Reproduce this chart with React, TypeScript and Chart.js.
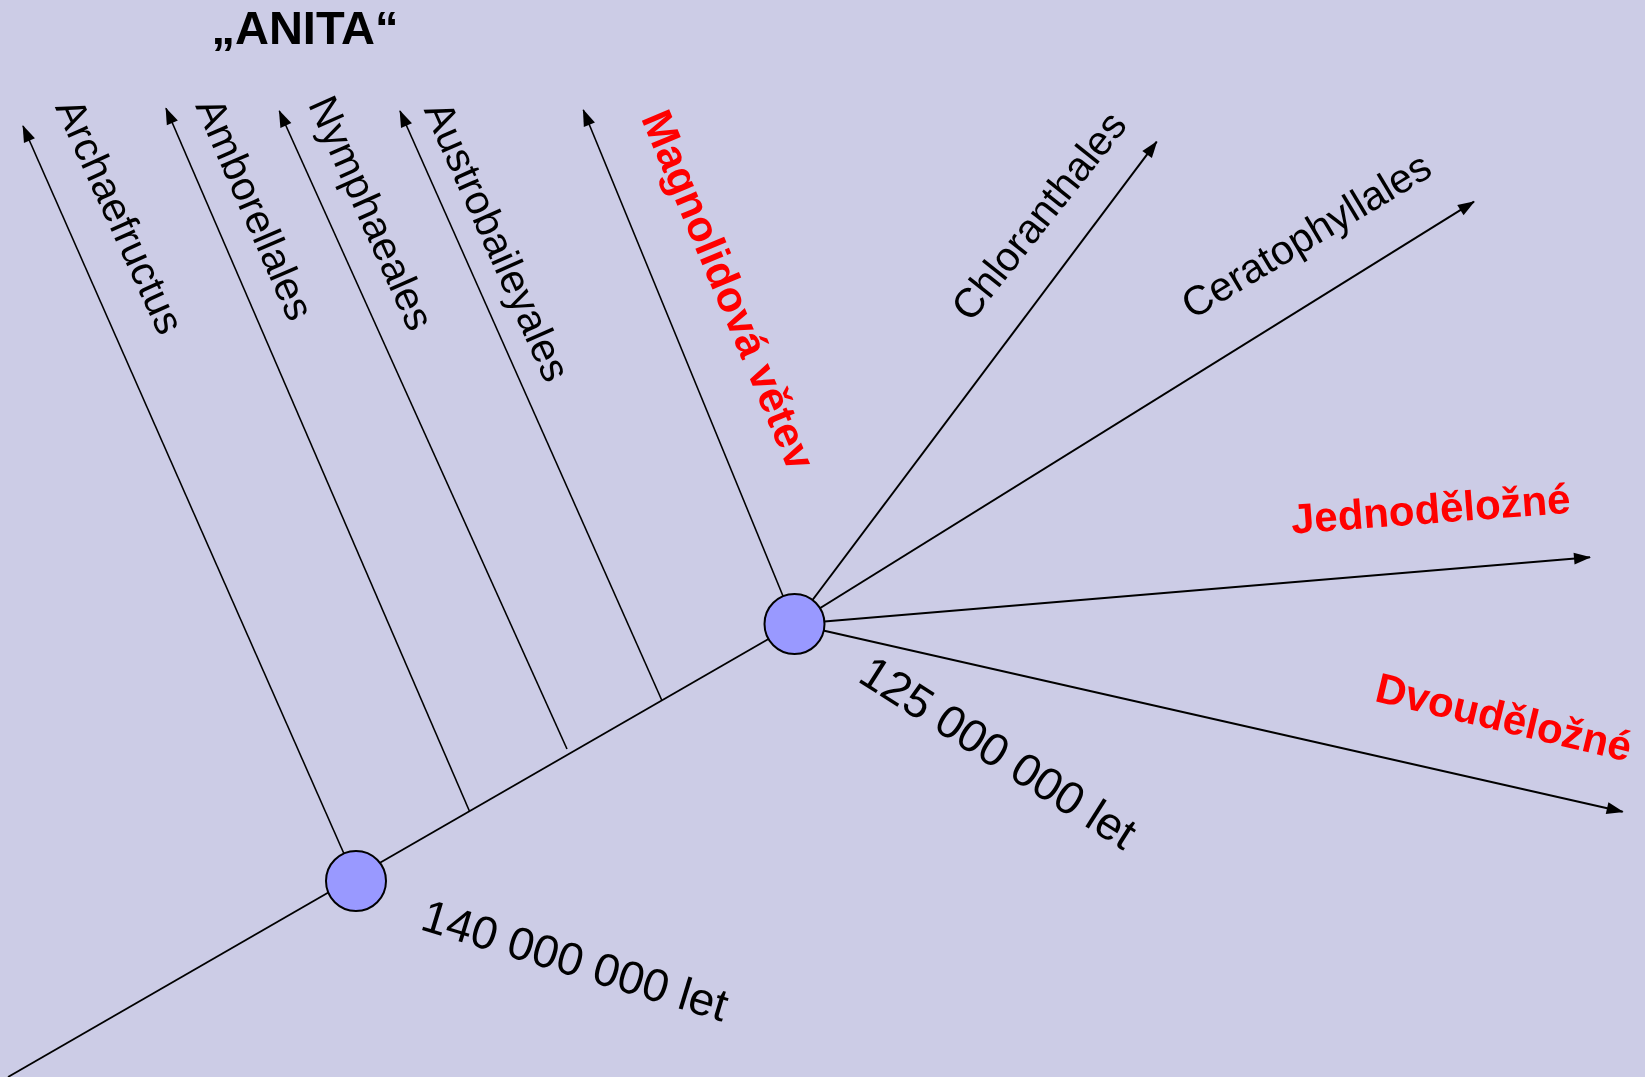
import React, { useEffect, useRef } from "react";
import { Chart, registerables } from "chart.js";

Chart.register(...registerables);

const W = 1645;
const H = 1077;

// ---- data ----
const title = "\u201EANITA\u201C";
const branchNames = [
  "Archaefructus",
  "Amborellales",
  "Nymphaeales",
  "Austrobaileyales",
  "Magnolidová větev",
  "Chloranthales",
  "Ceratophyllales",
  "Jednoděložné",
  "Dvouděložné",
];
const branchHighlighted = [false, false, false, false, true, false, false, true, true];
const branchBaseX = [356, 469.4, 567, 661.7, 794.5, 794.5, 794.5, 794.5, 794.5];
const branchBaseY = [881, 811, 749, 700, 624, 624, 624, 624, 624];
const branchTipX = [23, 166, 279.3, 400, 583.3, 1156.7, 1474, 1590, 1622.7];
const branchTipY = [126, 108.3, 111, 111, 110, 141.7, 201.7, 557.3, 811.7];

const trunkX = [8, 794.5];
const trunkY = [1077, 624];

const nodeX = [356, 794.5];
const nodeY = [881, 624];
const nodeAges = ["140 000 000 let", "125 000 000 let"];

// ---- layout (label placement) ----
const branchLabelCX = [117.5, 252.5, 369, 495, 726, 1040.8, 1307.5, 1430.8, 1503.3];
const branchLabelCY = [217.5, 210, 214, 242.5, 291, 217.5, 237.5, 511.7, 720];
const branchLabelAngle = [65.5, 66.5, 66, 66, 67.3, -51.5, -31, -4.3, 13.5];
const nodeLabelCX = [574.2, 996.7];
const nodeLabelCY = [963.3, 755];
const nodeLabelAngle = [17, 32.5];

const BG = "#CCCCE6";
const NODE_FILL = "#9999FF";
const FONT = '"Liberation Sans", Arial, sans-serif';

export default function App() {
  const ref = useRef<HTMLCanvasElement>(null);

  useEffect(() => {
    document.body.style.margin = "0";
    const canvas = ref.current;
    if (!canvas) return;

    const datasets: any[] = [];
    datasets.push({
      label: "nodes",
      data: nodeX.map((x, i) => ({ x, y: nodeY[i] })),
      pointRadius: 30,
      pointHoverRadius: 30,
      pointBackgroundColor: NODE_FILL,
      pointBorderColor: "#000000",
      pointBorderWidth: 2,
      showLine: false,
      order: 0,
      clip: false,
    });
    datasets.push({
      label: "trunk",
      data: trunkX.map((x, i) => ({ x, y: trunkY[i] })),
      showLine: true,
      borderColor: "#000000",
      borderWidth: 1.8,
      pointRadius: 0,
      order: 2,
      clip: false,
    });
    branchNames.forEach((name, i) => {
      datasets.push({
        label: name,
        data: [
          { x: branchBaseX[i], y: branchBaseY[i] },
          { x: branchTipX[i], y: branchTipY[i] },
        ],
        showLine: true,
        borderColor: "#000000",
        borderWidth: i < 5 ? 1.6 : 2,
        pointRadius: 0,
        order: 2,
        clip: false,
      });
    });

    const bgPlugin = {
      id: "bg",
      beforeDraw(chart: any) {
        const c = chart.ctx;
        c.save();
        c.fillStyle = BG;
        c.fillRect(0, 0, chart.width, chart.height);
        c.restore();
      },
    };

    const arrowPlugin = {
      id: "arrows",
      afterDatasetsDraw(chart: any) {
        const c = chart.ctx;
        const xs = chart.scales.x;
        const ys = chart.scales.y;
        c.save();
        c.fillStyle = "#000000";
        branchNames.forEach((_, i) => {
          const tx = xs.getPixelForValue(branchTipX[i]);
          const ty = ys.getPixelForValue(branchTipY[i]);
          const bx = xs.getPixelForValue(branchBaseX[i]);
          const by = ys.getPixelForValue(branchBaseY[i]);
          const dx = tx - bx;
          const dy = ty - by;
          const len = Math.hypot(dx, dy);
          const ux = dx / len;
          const uy = dy / len;
          const L = 16;
          const hw = 6;
          const px = tx - ux * L;
          const py = ty - uy * L;
          c.beginPath();
          c.moveTo(tx + ux * 1, ty + uy * 1);
          c.lineTo(px - uy * hw, py + ux * hw);
          c.lineTo(px + uy * hw, py - ux * hw);
          c.closePath();
          c.fill();
        });
        c.restore();
      },
    };

    const labelPlugin = {
      id: "labels",
      afterDraw(chart: any) {
        const c = chart.ctx;
        const xs = chart.scales.x;
        const ys = chart.scales.y;
        const drawText = (
          text: string,
          cx: number,
          cy: number,
          angle: number,
          font: string,
          color: string
        ) => {
          c.save();
          c.translate(xs.getPixelForValue(cx), ys.getPixelForValue(cy));
          c.rotate((angle * Math.PI) / 180);
          c.font = font;
          c.fillStyle = color;
          c.textAlign = "center";
          c.textBaseline = "middle";
          c.fillText(text, 0, 0);
          c.restore();
        };
        // title
        c.save();
        c.font = `bold 47px ${FONT}`;
        c.fillStyle = "#000000";
        c.textAlign = "center";
        c.textBaseline = "alphabetic";
        c.fillText(title, xs.getPixelForValue(305), ys.getPixelForValue(44));
        c.restore();

        branchNames.forEach((name, i) => {
          const hl = branchHighlighted[i];
          drawText(
            name,
            branchLabelCX[i],
            branchLabelCY[i],
            branchLabelAngle[i],
            hl ? `bold ${i === 4 ? 43 : 42}px ${FONT}` : `41px ${FONT}`,
            hl ? "#FF0000" : "#000000"
          );
        });
        nodeAges.forEach((t, i) => {
          drawText(t, nodeLabelCX[i], nodeLabelCY[i], nodeLabelAngle[i], `46px ${FONT}`, "#000000");
        });
      },
    };

    const chart = new Chart(canvas, {
      type: "scatter",
      data: { datasets },
      options: {
        responsive: false,
        maintainAspectRatio: false,
        animation: false,
        devicePixelRatio: 1,
        events: [],
        layout: { padding: 0, autoPadding: false },
        plugins: {
          legend: { display: false },
          tooltip: { enabled: false },
        },
        scales: {
          x: { type: "linear", min: 0, max: W, display: false },
          y: { type: "linear", min: 0, max: H, reverse: true, display: false },
        },
      },
      plugins: [bgPlugin, arrowPlugin, labelPlugin],
    } as any);

    return () => chart.destroy();
  }, []);

  return (
    <canvas
      ref={ref}
      width={W}
      height={H}
      style={{ display: "block", width: W, height: H }}
    />
  );
}
